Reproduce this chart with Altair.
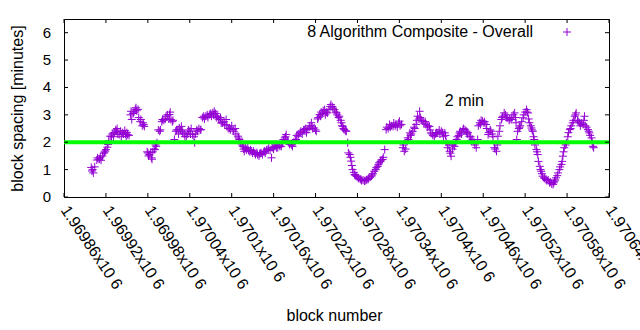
import json
import altair as alt
import pandas as pd

# ---- data ----
blocks = [
    1969899, 1969900, 1969901, 1969902, 1969904, 1969907, 1969908, 1969910, 1969911, 1969912,
    1969913, 1969915, 1969917, 1969918, 1969919, 1969920, 1969922, 1969923, 1969924, 1969926,
    1969928, 1969929, 1969931, 1969932, 1969934, 1969935, 1969936, 1969937, 1969939, 1969941,
    1969942, 1969944, 1969945, 1969947, 1969948, 1969949, 1969950, 1969951, 1969953, 1969955,
    1969956, 1969957, 1969959, 1969960, 1969962, 1969963, 1969964, 1969966, 1969967, 1969969,
    1969970, 1969972, 1969973, 1969974, 1969975, 1969979, 1969980, 1969981, 1969982, 1969984,
    1969985, 1969986, 1969987, 1969989, 1969990, 1969991, 1969992, 1969993, 1969995, 1969997,
    1969998, 1970000, 1970001, 1970003, 1970005, 1970006, 1970008, 1970010, 1970011, 1970012,
    1970013, 1970015, 1970016, 1970018, 1970020, 1970021, 1970023, 1970024, 1970025, 1970027,
    1970028, 1970029, 1970030, 1970032, 1970033, 1970035, 1970037, 1970038, 1970040, 1970041,
    1970042, 1970044, 1970046, 1970047, 1970048, 1970050, 1970051, 1970053, 1970055, 1970056,
    1970058, 1970060, 1970061, 1970063, 1970065, 1970066, 1970068, 1970070, 1970071, 1970073,
    1970074, 1970075, 1970077, 1970078, 1970080, 1970081, 1970083, 1970084, 1970085, 1970087,
    1970089, 1970090, 1970092, 1970093, 1970095, 1970097, 1970098, 1970100, 1970102, 1970103,
    1970105, 1970106, 1970109, 1970110, 1970111, 1970113, 1970115, 1970116, 1970117, 1970118,
    1970120, 1970121, 1970123, 1970124, 1970126, 1970127, 1970128, 1970130, 1970131, 1970133,
    1970134, 1970136, 1970137, 1970139, 1970140, 1970141, 1970142, 1970144, 1970146, 1970147,
    1970148, 1970150, 1970152, 1970153, 1970155, 1970157, 1970158, 1970160, 1970161, 1970163,
    1970164, 1970166, 1970168, 1970169, 1970171, 1970173, 1970174, 1970176, 1970177, 1970178,
    1970180, 1970181, 1970183, 1970185, 1970186, 1970187, 1970189, 1970191, 1970192, 1970193,
    1970195, 1970196, 1970198, 1970199, 1970201, 1970203, 1970204, 1970206, 1970207, 1970209,
    1970211, 1970212, 1970214, 1970215, 1970216, 1970218, 1970220, 1970221, 1970223, 1970224,
    1970226, 1970227, 1970228, 1970230, 1970231, 1970233, 1970234, 1970236, 1970237, 1970239,
    1970241, 1970242, 1970244, 1970245, 1970247, 1970249, 1970250, 1970251, 1970253, 1970254,
    1970256, 1970257, 1970258, 1970259, 1970260, 1970261, 1970263, 1970264, 1970266, 1970267,
    1970269, 1970270, 1970271, 1970272, 1970273, 1970275, 1970276, 1970277, 1970279, 1970281,
    1970282, 1970284, 1970285, 1970286, 1970288, 1970290, 1970291, 1970293, 1970295, 1970296,
    1970298, 1970300, 1970301, 1970302, 1970304, 1970306, 1970307, 1970309, 1970310, 1970311,
    1970313, 1970314, 1970316, 1970317, 1970319, 1970321, 1970322, 1970324, 1970326, 1970327,
    1970329, 1970331, 1970332, 1970334, 1970335, 1970337, 1970339, 1970340, 1970341, 1970343,
    1970345, 1970346, 1970347, 1970349, 1970351, 1970352, 1970353, 1970355, 1970356, 1970357,
    1970359, 1970361, 1970362, 1970364, 1970365, 1970366, 1970368, 1970369, 1970370, 1970372,
    1970374, 1970375, 1970377, 1970378, 1970380, 1970381, 1970383, 1970384, 1970385, 1970387,
    1970388, 1970390, 1970392, 1970393, 1970395, 1970397, 1970398, 1970400, 1970402, 1970403,
    1970405, 1970406, 1970407, 1970409, 1970411, 1970412, 1970413, 1970414, 1970416, 1970417,
    1970419, 1970420, 1970422, 1970423, 1970425, 1970426, 1970427, 1970429, 1970431, 1970432,
    1970434, 1970436, 1970437, 1970438, 1970440, 1970442, 1970443, 1970445, 1970447, 1970448,
    1970450, 1970452, 1970453, 1970455, 1970456, 1970457, 1970459, 1970461, 1970462, 1970464,
    1970465, 1970467, 1970468, 1970470, 1970471, 1970473, 1970474, 1970476, 1970477, 1970479,
    1970480, 1970481, 1970483, 1970484, 1970486, 1970487, 1970488, 1970490, 1970492, 1970493,
    1970495, 1970497, 1970498, 1970500, 1970501, 1970503, 1970505, 1970506, 1970507, 1970508,
    1970509, 1970511, 1970512, 1970513, 1970515, 1970517, 1970518, 1970520, 1970522, 1970523,
    1970524, 1970525, 1970526, 1970528, 1970529, 1970530, 1970531, 1970532, 1970533, 1970534,
    1970536, 1970537, 1970538, 1970539, 1970541, 1970542, 1970543, 1970544, 1970545, 1970547,
    1970548, 1970550, 1970551, 1970553, 1970555, 1970556, 1970558, 1970560, 1970561, 1970562,
    1970563, 1970564, 1970566, 1970567, 1970569, 1970570, 1970572, 1970573, 1970574, 1970575,
    1970576, 1970578, 1970579, 1970581, 1970582, 1970584, 1970585, 1970586, 1970588, 1970589,
    1970591, 1970592, 1970593, 1970595, 1970596, 1970598, 1970599, 1970601, 1970603, 1970604,
    1970605, 1970606, 1970608, 1970610, 1970611, 1970612, 1970613, 1970615, 1970616, 1970617,
    1970618,
]

spacing = [
    1.08, 0.95, 1.00, 0.88, 1.10, 1.35, 1.43, 1.38, 1.39, 1.45,
    1.34, 1.50, 1.60, 1.64, 1.68, 1.73, 1.82, 1.92, 2.05, 2.22,
    2.22, 2.30, 2.20, 2.35, 2.45, 2.40, 2.50, 2.30, 2.28, 2.40,
    2.20, 2.35, 2.30, 2.43, 2.30, 2.22, 2.35, 2.28, 2.25, 3.00,
    3.13, 2.83, 3.05, 3.10, 3.20, 3.26, 3.15, 3.20, 2.90, 2.75,
    2.83, 2.60, 2.71, 2.65, 2.58, 1.65, 1.61, 1.50, 1.55, 1.62,
    1.43, 1.38, 1.65, 1.75, 1.73, 1.90, 1.85, 1.98, 2.45, 2.40,
    2.45, 2.75, 2.83, 2.80, 2.85, 2.95, 3.00, 2.85, 3.01, 3.10,
    2.83, 2.75, 2.80, 2.10, 2.40, 2.45, 2.46, 2.30, 2.52, 2.45,
    2.58, 2.40, 2.34, 2.30, 2.20, 2.22, 2.30, 2.45, 2.40, 2.30,
    2.50, 2.28, 2.20, 1.98, 2.30, 2.45, 2.40, 2.50, 2.45, 2.46,
    2.90, 2.95, 2.85, 2.95, 3.00, 2.90, 3.01, 3.05, 2.95, 3.07,
    3.00, 3.13, 3.05, 2.90, 2.95, 2.85, 2.83, 2.90, 2.70, 2.71,
    2.75, 2.65, 2.83, 2.60, 2.50, 2.52, 2.45, 2.60, 2.46, 2.40,
    2.50, 2.30, 2.22, 2.15, 2.10, 1.95, 1.90, 1.85, 1.75, 1.67,
    1.78, 1.72, 1.80, 1.70, 1.65, 1.72, 1.67, 1.60, 1.68, 1.61,
    1.55, 1.62, 1.55, 1.50, 1.58, 1.60, 1.61, 1.55, 1.65, 1.67,
    1.60, 1.72, 1.73, 1.78, 1.70, 1.43, 1.80, 1.75, 1.85, 1.90,
    1.80, 1.80, 1.90, 1.85, 1.85, 1.95, 2.10, 2.16, 2.20, 2.28,
    2.05, 2.00, 1.92, 1.95, 1.90, 1.85, 2.00, 2.05, 2.10, 2.25,
    2.22, 2.30, 2.35, 2.40, 2.30, 2.45, 2.46, 2.50, 2.35, 2.46,
    2.55, 2.60, 2.71, 2.60, 2.50, 2.52, 2.45, 2.40, 2.85, 2.90,
    3.01, 2.95, 3.10, 3.05, 3.15, 3.19, 3.00, 3.10, 3.07, 3.20,
    3.30, 3.38, 3.30, 3.25, 3.19, 3.10, 3.07, 3.00, 2.90, 2.95,
    2.80, 2.71, 2.60, 2.58, 2.50, 2.46, 2.42, 2.40, 1.98, 1.61,
    1.55, 1.45, 1.31, 1.15, 1.00, 0.90, 0.82, 0.78, 0.75, 0.70,
    0.68, 0.65, 0.64, 0.60, 0.62, 0.58, 0.60, 0.63, 0.64, 0.68,
    0.72, 0.76, 0.80, 0.85, 0.94, 1.00, 1.07, 1.12, 1.18, 1.25,
    1.30, 1.35, 1.37, 1.45, 1.73, 2.46, 2.55, 2.50, 2.65, 2.55,
    2.60, 2.58, 2.70, 2.60, 2.65, 2.55, 2.70, 2.77, 2.60, 2.65,
    1.80, 1.90, 1.67, 1.75, 2.05, 2.16, 2.10, 2.34, 2.25, 2.30,
    2.40, 2.55, 2.50, 2.65, 2.80, 2.95, 2.85, 3.13, 2.90, 2.80,
    2.77, 2.70, 2.75, 2.65, 2.55, 2.60, 2.58, 2.45, 2.34, 2.30,
    2.25, 2.22, 2.30, 2.35, 2.34, 2.45, 2.30, 2.40, 2.35, 2.20,
    2.34, 2.25, 2.00, 1.80, 1.90, 1.67, 1.60, 1.49, 1.75, 1.90,
    1.85, 2.00, 2.10, 2.20, 2.25, 2.34, 2.40, 2.30, 2.46, 2.50,
    2.45, 2.40, 2.30, 2.35, 2.22, 2.20, 2.05, 2.10, 2.00, 1.90,
    1.80, 2.10, 2.60, 2.71, 2.65, 2.80, 2.77, 2.70, 2.75, 2.65,
    2.50, 2.28, 2.35, 2.45, 2.40, 2.30, 2.20, 1.80, 1.75, 1.67,
    1.90, 2.22, 2.40, 2.60, 2.83, 2.90, 2.95, 3.07, 3.00, 2.90,
    2.89, 2.80, 2.85, 2.83, 2.90, 3.00, 3.07, 2.90, 2.71, 2.10,
    2.40, 2.50, 2.55, 2.60, 2.75, 2.89, 3.00, 3.10, 3.19, 3.10,
    3.07, 2.85, 2.71, 2.60, 2.52, 2.45, 2.40, 2.20, 2.10, 1.90,
    1.73, 1.65, 1.55, 1.30, 1.12, 1.00, 0.94, 0.85, 0.76, 0.70,
    0.68, 0.64, 0.60, 0.62, 0.52, 0.55, 0.48, 0.46, 0.52, 0.58,
    0.62, 0.70, 0.78, 0.88, 1.00, 1.10, 1.19, 1.30, 1.49, 1.65,
    1.80, 1.90, 1.98, 2.20, 2.35, 2.46, 2.50, 2.60, 2.71, 2.80,
    2.95, 3.00, 3.07, 2.80, 2.75, 2.71, 2.60, 2.70, 2.65, 2.80,
    2.95, 2.60, 2.55, 2.46, 2.40, 2.34, 2.25, 2.16, 2.00, 1.85,
    1.80,
]

x_tick_values = [1969860, 1969920, 1969980, 1970040, 1970100, 1970160, 1970220,
                 1970280, 1970340, 1970400, 1970460, 1970520, 1970580, 1970640]
x_tick_labels = ["1.96986x10 6", "1.96992x10 6", "1.96998x10 6", "1.97004x10 6",
                 "1.9701x10 6", "1.97016x10 6", "1.97022x10 6", "1.97028x10 6",
                 "1.97034x10 6", "1.9704x10 6", "1.97046x10 6", "1.97052x10 6",
                 "1.97058x10 6", "1.97064x10 6"]
y_tick_values = [0, 1, 2, 3, 4, 5, 6]
y_tick_labels = ["0", "1", "2", "3", "4", "5", "6"]

x_domain = [1969860, 1970640]
y_domain = [0, 6.5]
target_spacing = [2]
series_name = "8 Algorithm Composite - Overall"
note_text = "2 min"
note_block = [1970405]
note_value = [3.5]

# ---- styling ----
W, H = 545, 178
PAD_L, PAD_T = 64, 19
FONT = "Liberation Sans"
PURPLE = "#9400D3"
GREEN = "#00FF00"
CROSS = "M-1,0L1,0M0,-1L0,1"
PT_SIZE = 64

df = pd.DataFrame({"block": blocks, "spacing": spacing})
xscale = alt.Scale(domain=x_domain, nice=False, zero=False)
yscale = alt.Scale(domain=y_domain, nice=False, zero=False)

label_expr = (json.dumps(x_tick_labels) + "[indexof(" +
              json.dumps(x_tick_values) + ", datum.value)]")

x_axis = alt.Axis(values=x_tick_values, labelExpr=label_expr, labelAngle=56,
                  labelAlign="left", labelBaseline="middle", labelPadding=10,
                  labelFlush=False, labelOverlap=False, labelBound=False,
                  tickSize=0, domain=False, grid=False,
                  labelFont=FONT, labelFontSize=16, labelColor="black",
                  title="block number", titleFont=FONT, titleFontSize=16,
                  titleFontWeight="normal", titleColor="black",
                  titleX=270, titleY=123, titleAlign="center",
                  titleBaseline="alphabetic")
y_axis = alt.Axis(values=y_tick_values, tickSize=0, domain=False, grid=False,
                  labels=False, title="block spacing [minutes]",
                  titleFont=FONT, titleFontSize=16, titleFontWeight="normal",
                  titleColor="black", titleAngle=270, titleX=-47, titleY=H / 2,
                  titleAlign="center", titleBaseline="middle")

points = alt.Chart(df).mark_point(
    shape=CROSS, filled=False, size=PT_SIZE, strokeWidth=1, color=PURPLE, opacity=1
).encode(
    x=alt.X("block:Q", scale=xscale, axis=x_axis),
    y=alt.Y("spacing:Q", scale=yscale, axis=y_axis),
)

green = alt.Chart(pd.DataFrame({"spacing": target_spacing})).mark_rule(
    color=GREEN, strokeWidth=4
).encode(y=alt.Y("spacing:Q", scale=yscale))

xt = pd.DataFrame({"block": x_tick_values})
yt = pd.DataFrame({"spacing": y_tick_values, "lab": y_tick_labels})
tick_style = dict(color="black", strokeWidth=1)
bottom_ticks = alt.Chart(xt).mark_rule(**tick_style).encode(
    x=alt.X("block:Q", scale=xscale), y=alt.value(H), y2=alt.value(H - 4))
top_ticks = alt.Chart(xt).mark_rule(**tick_style).encode(
    x=alt.X("block:Q", scale=xscale), y=alt.value(0), y2=alt.value(4))
left_ticks = alt.Chart(yt).mark_rule(**tick_style).encode(
    y=alt.Y("spacing:Q", scale=yscale), x=alt.value(0), x2=alt.value(4))
right_ticks = alt.Chart(yt).mark_rule(**tick_style).encode(
    y=alt.Y("spacing:Q", scale=yscale), x=alt.value(W), x2=alt.value(W - 4))
y_labels = alt.Chart(yt).mark_text(
    align="right", baseline="middle", font=FONT, fontSize=15, color="black"
).encode(y=alt.Y("spacing:Q", scale=yscale), x=alt.value(-13), text="lab:N")

note = alt.Chart(pd.DataFrame({"block": note_block, "spacing": note_value,
                               "t": [note_text]})).mark_text(
    align="left", baseline="middle", font=FONT, fontSize=16, color="black"
).encode(x=alt.X("block:Q", scale=xscale), y=alt.Y("spacing:Q", scale=yscale),
         text="t:N")

key_df = pd.DataFrame({"t": [series_name]})
key_text = alt.Chart(key_df).mark_text(
    align="right", baseline="middle", font=FONT, fontSize=16, color="black"
).encode(x=alt.value(469), y=alt.value(12.5), text="t:N")
key_sym = alt.Chart(key_df).mark_point(
    shape=CROSS, filled=False, size=PT_SIZE, strokeWidth=1, color=PURPLE, opacity=1
).encode(x=alt.value(503), y=alt.value(13))

chart = alt.layer(
    points, green, bottom_ticks, top_ticks, left_ticks, right_ticks,
    y_labels, note, key_text, key_sym
).properties(
    width=W, height=H,
    autosize=alt.AutoSizeParams(type="none"),
    padding={"left": PAD_L, "top": PAD_T,
             "right": 640 - PAD_L - W, "bottom": 330 - PAD_T - H},
).configure_view(stroke="black", strokeWidth=1)

chart.save("out.html", embed_options={"renderer": "svg", "actions": False})
